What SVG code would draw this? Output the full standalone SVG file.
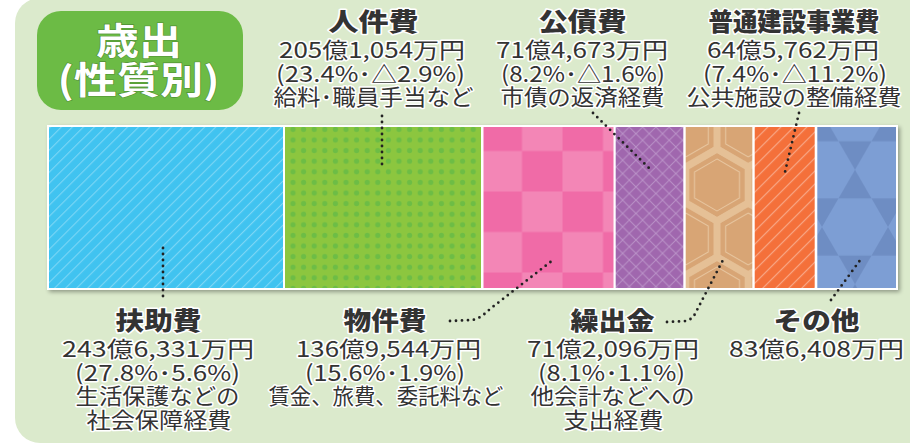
<svg xmlns="http://www.w3.org/2000/svg" xmlns:xlink="http://www.w3.org/1999/xlink" width="910" height="447" viewBox="0 0 910 447">
<style>
.t{font-family:"Noto Sans CJK JP","Noto Sans CJK SC",sans-serif;fill:#333;stroke:#fff;stroke-width:3;stroke-linejoin:round;paint-order:stroke;text-anchor:middle}
.h{font-size:25px;font-weight:900}
.b{font-size:22px;font-weight:400}
.w{font-family:"Noto Sans CJK JP","Noto Sans CJK SC",sans-serif;fill:#fff;stroke:#4f8f33;stroke-width:1.2;paint-order:stroke;text-anchor:middle;font-size:37px;font-weight:600}
.dot{fill:none;stroke:#222;stroke-width:2.8;stroke-linecap:round;stroke-dasharray:0 6}
</style>
<defs>
<filter id="sh" x="-5%" y="-10%" width="110%" height="125%">
<feGaussianBlur in="SourceAlpha" stdDeviation="2"/>
<feOffset dx="2" dy="2"/>
<feComponentTransfer><feFuncA type="linear" slope="0.35"/></feComponentTransfer>
<feMerge><feMergeNode/><feMergeNode in="SourceGraphic"/></feMerge>
</filter>
<pattern id="pBlue" patternUnits="userSpaceOnUse" width="7.8" height="7.8" patternTransform="rotate(45)">
<rect width="7.8" height="7.8" fill="#40c3f0"/>
<line x1="0.6" y1="0" x2="0.6" y2="7.8" stroke="#ffffff" stroke-opacity="0.35" stroke-width="1"/>
</pattern>
<pattern id="pGreen" patternUnits="userSpaceOnUse" x="287.7" y="134.7" width="10.6" height="10.6">
<rect width="10.6" height="10.6" fill="#8cc63f"/>
<circle cx="5.3" cy="5.3" r="2.6" fill="#6dbd45"/>
</pattern>
<pattern id="pPink" patternUnits="userSpaceOnUse" x="481.5" y="110.5" width="81" height="81">
<rect width="81" height="81" fill="#f386b6"/>
<rect width="40.5" height="40.5" fill="#f06ba7"/>
<rect x="40.5" y="40.5" width="40.5" height="40.5" fill="#f06ba7"/>
</pattern>
<pattern id="pPurple" patternUnits="userSpaceOnUse" x="616" y="127" width="13.3" height="13.3">
<rect width="13.3" height="13.3" fill="#a067ae"/>
<path d="M0,0L13.3,13.3M0,13.3L13.3,0" stroke="#ba92c8" stroke-width="1"/>
</pattern>
<g id="hx">
<polygon points="0,-36 31.18,-18 31.18,18 0,36 -31.18,18 -31.18,-18" fill="none" stroke="#e5c096" stroke-width="7"/>
<polygon points="0,-26 22.5,-13 22.5,13 0,26 -22.5,13 -22.5,-13" fill="none" stroke="#e8c7a1" stroke-width="1"/>
</g>
<pattern id="pTan" patternUnits="userSpaceOnUse" x="717" y="185" width="62.35" height="108">
<rect width="62.35" height="108" fill="#d8a575"/>
<use xlink:href="#hx" x="0" y="0"/>
<use xlink:href="#hx" x="62.35" y="0"/>
<use xlink:href="#hx" x="31.18" y="54"/>
<use xlink:href="#hx" x="0" y="108"/>
<use xlink:href="#hx" x="62.35" y="108"/>
<use xlink:href="#hx" x="31.18" y="-54"/>
<use xlink:href="#hx" x="31.18" y="162"/>
</pattern>
<pattern id="pOrange" patternUnits="userSpaceOnUse" width="9.2" height="9.2" patternTransform="translate(754,127) rotate(45)">
<rect width="9.2" height="9.2" fill="#f4703a"/>
<line x1="0.6" y1="0" x2="0.6" y2="9.2" stroke="#ffffff" stroke-opacity="0.42" stroke-width="1.1"/>
</pattern>
<polygon id="kh" points="33,0 16.5,28.58 -16.5,28.58 -33,0 -16.5,-28.58 16.5,-28.58" fill="#7d9ed4"/>
<pattern id="pSlate" patternUnits="userSpaceOnUse" x="855" y="227" width="66" height="114.32">
<rect width="66" height="114.32" fill="#6e8dc3"/>
<use xlink:href="#kh" x="0" y="0"/>
<use xlink:href="#kh" x="66" y="0"/>
<use xlink:href="#kh" x="33" y="57.16"/>
<use xlink:href="#kh" x="0" y="114.32"/>
<use xlink:href="#kh" x="66" y="114.32"/>
</pattern>
</defs>

<rect id="background" x="15" y="-2" width="930" height="445" rx="25" fill="#dbeacc"/>

<g id="node-title">
<rect x="37" y="11" width="206" height="99" rx="24" fill="#6cbb45"/>
<text class="w" x="139" y="55" textLength="86" lengthAdjust="spacingAndGlyphs">歳出</text>
<text class="w" x="138.5" y="94" textLength="162" lengthAdjust="spacingAndGlyphs">(性質別)</text>
</g>

<g id="bar">
<rect x="47" y="125" width="851" height="165" fill="#ffffff" filter="url(#sh)"/>
</g>

<g id="node-fujohi">
<rect x="49" y="127" width="234" height="161" fill="url(#pBlue)"/>
<text class="t h" x="158.5" y="330" textLength="86" lengthAdjust="spacingAndGlyphs">扶助費</text>
<text class="t b" x="158" y="357" textLength="192" lengthAdjust="spacingAndGlyphs">243億6,331万円</text>
<text class="t b" x="157.5" y="380.5" textLength="165" lengthAdjust="spacingAndGlyphs">(27.8%･5.6%)</text>
<text class="t b" x="157.5" y="404" textLength="164" lengthAdjust="spacingAndGlyphs">生活保護などの</text>
<text class="t b" x="159" y="427.5" textLength="145" lengthAdjust="spacingAndGlyphs">社会保障経費</text>
</g>

<g id="node-jinkenhi">
<rect x="285" y="127" width="196" height="161" fill="url(#pGreen)"/>
<text class="t h" x="373.5" y="31" textLength="90" lengthAdjust="spacingAndGlyphs">人件費</text>
<text class="t b" x="372" y="58" textLength="186" lengthAdjust="spacingAndGlyphs">205億1,054万円</text>
<text class="t b" x="370.5" y="81.5" textLength="189" lengthAdjust="spacingAndGlyphs">(23.4%･△2.9%)</text>
<text class="t b" x="373.5" y="105" textLength="200" lengthAdjust="spacingAndGlyphs">給料･職員手当など</text>
</g>

<g id="node-bukkenhi">
<rect x="483.5" y="127" width="130" height="161" fill="url(#pPink)"/>
<text class="t h" x="385" y="330" textLength="83" lengthAdjust="spacingAndGlyphs">物件費</text>
<text class="t b" x="388.5" y="357" textLength="185" lengthAdjust="spacingAndGlyphs">136億9,544万円</text>
<text class="t b" x="385" y="380.5" textLength="160" lengthAdjust="spacingAndGlyphs">(15.6%･1.9%)</text>
<text class="t b" x="386" y="404" textLength="235" lengthAdjust="spacingAndGlyphs">賃金、旅費、委託料など</text>
</g>

<g id="node-kosaihi">
<rect x="615.7" y="127" width="67.6" height="161" fill="url(#pPurple)"/>
<text class="t h" x="582.5" y="31" textLength="88" lengthAdjust="spacingAndGlyphs">公債費</text>
<text class="t b" x="582" y="58" textLength="172" lengthAdjust="spacingAndGlyphs">71億4,673万円</text>
<text class="t b" x="583" y="81.5" textLength="164" lengthAdjust="spacingAndGlyphs">(8.2%･△1.6%)</text>
<text class="t b" x="582.5" y="105" textLength="164" lengthAdjust="spacingAndGlyphs">市債の返済経費</text>
</g>

<g id="node-kurishikin">
<rect x="685.7" y="127" width="66.6" height="161" fill="url(#pTan)"/>
<text class="t h" x="612.5" y="330" textLength="84" lengthAdjust="spacingAndGlyphs">繰出金</text>
<text class="t b" x="613" y="357" textLength="172" lengthAdjust="spacingAndGlyphs">71億2,096万円</text>
<text class="t b" x="611.5" y="380.5" textLength="147" lengthAdjust="spacingAndGlyphs">(8.1%･1.1%)</text>
<text class="t b" x="612.5" y="404" textLength="164" lengthAdjust="spacingAndGlyphs">他会計などへの</text>
<text class="t b" x="613.5" y="427.5" textLength="100" lengthAdjust="spacingAndGlyphs">支出経費</text>
</g>

<g id="node-futsukensetsu">
<rect x="754.7" y="127" width="60" height="161" fill="url(#pOrange)"/>
<text class="t h" x="794" y="31" textLength="171" lengthAdjust="spacingAndGlyphs">普通建設事業費</text>
<text class="t b" x="793" y="58" textLength="172" lengthAdjust="spacingAndGlyphs">64億5,762万円</text>
<text class="t b" x="795" y="81.5" textLength="184" lengthAdjust="spacingAndGlyphs">(7.4%･△11.2%)</text>
<text class="t b" x="794" y="105" textLength="215" lengthAdjust="spacingAndGlyphs">公共施設の整備経費</text>
</g>

<g id="node-sonota">
<rect x="817.3" y="127" width="78.7" height="161" fill="url(#pSlate)"/>
<text class="t h" x="816.5" y="330" textLength="86" lengthAdjust="spacingAndGlyphs">その他</text>
<text class="t b" x="816.5" y="357" textLength="175" lengthAdjust="spacingAndGlyphs">83億6,408万円</text>
</g>

<g id="connectors">
<path class="dot" d="M382,116 L382,168"/>
<path class="dot" d="M593,113 L652,171"/>
<path class="dot" d="M799,113 L785,172"/>
<path class="dot" d="M163,248 L163,302"/>
<path class="dot" d="M450,321 L472,320 Q480,319 490,309 L553,260"/>
<path class="dot" d="M667,322 L687,321 Q694,318 697,310 L723,260"/>
<path class="dot" d="M831,300 L861,259"/>
</g>
</svg>
